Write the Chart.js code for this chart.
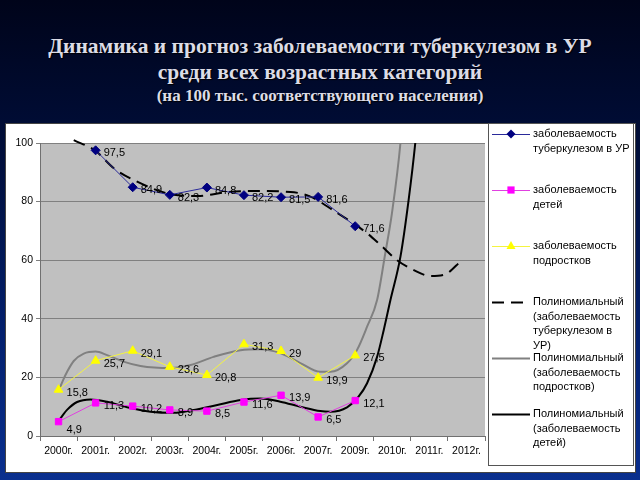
<!DOCTYPE html>
<html><head><meta charset="utf-8">
<script src="https://cdn.jsdelivr.net/npm/chart.js@4/dist/chart.umd.min.js"></script>
<style>
html,body{margin:0;padding:0;width:640px;height:480px;overflow:hidden;}
body{background:linear-gradient(to bottom,#00041a 0%,#000f3e 35%,#03206e 70%,#0a2f8e 100%);position:relative;font-family:"Liberation Serif",serif;}
.t{position:absolute;left:0;width:640px;text-align:center;color:#dcdce6;font-weight:bold;text-shadow:1px 1px 1px #000;white-space:nowrap;}
#t1{top:34px;font-size:21.5px;}
#t2{top:60px;font-size:21.5px;}
#t3{top:86px;font-size:17px;}
#panel{position:absolute;left:5px;top:123px;width:629px;height:348px;background:#fff;border:1px solid #444;}
#c{position:absolute;left:5px;top:123px;}
</style></head>
<body>
<div class="t" id="t1">Динамика и прогноз заболеваемости туберкулезом в УР</div>
<div class="t" id="t2">среди всех возрастных категорий</div>
<div class="t" id="t3">(на 100 тыс. соответствующего населения)</div>
<div id="panel"></div>
<canvas id="c" width="631" height="350"></canvas>
<script>
const categories = ['2000г.','2001г.','2002г.','2003г.','2004г.','2005г.','2006г.','2007г.','2009г.','2010г.','2011г.','2012г.'];
const totalValues = [null,97.5,84.9,82.3,84.8,82.2,81.5,81.6,71.6,null,null,null];
const childValues = [4.9,11.3,10.2,8.9,8.5,11.6,13.9,6.5,12.1,null,null,null];
const teenValues  = [15.8,25.7,29.1,23.6,20.8,31.3,29,19.9,27.5,null,null,null];

// polynomial trend curves (x = category index)
const trendTotalX = [0.41,1.0,1.49,2.12,2.93,3.74,4.55,5.18,6.25,6.79,7.41,8.32,8.68,9.13,9.58,10.03,10.39,10.88];
const trendTotalY = [101,97.3,91.4,86.8,82.8,81.9,83.2,83.6,83.3,81.7,77,69.2,65.2,60,56.6,54.6,55,60];
const trendTeenX = [0,0.12,0.235,0.41,0.68,1.0,1.31,1.75,2.21,3.02,3.56,4.18,4.91,5.44,5.98,6.52,7.06,7.33,7.78,8.05,8.32,8.59,8.81,8.99,9.22,9.4];
const trendTeenY = [15.3,19,22,25.6,28.1,28.8,27.6,25.4,23.9,23.2,24.2,27,29.3,29.6,28.3,24.9,21.9,21.9,24.8,29.4,37.3,46.4,62.3,76,100,130];
const trendChildX = [0,0.12,0.235,0.5,0.86,1.31,1.85,2.48,3.11,3.65,4.28,4.91,5.44,5.98,6.52,7.06,7.33,7.78,8.09,8.32,8.59,8.77,8.95,9.22,9.44,9.62,9.8];
const trendChildY = [5,7.2,9,11.6,12.5,11.7,9.8,8.3,7.9,8.9,10.6,12.3,12.8,11.7,10,8.5,8.3,9.8,13.4,18,27,36.2,46.4,61.2,80.5,100,125];

const yTicks = [0,20,40,60,80,100];

const legendText = [
  ['заболеваемость','туберкулезом в УР'],
  ['заболеваемость','детей'],
  ['заболеваемость','подростков'],
  ['Полиномиальный','(заболеваемость','туберкулезом в','УР)'],
  ['Полиномиальный','(заболеваемость','подростков)'],
  ['Полиномиальный','(заболеваемость','детей)']
];

const pts = (xs, ys) => xs.map((x,i)=>({x:x, y:ys[i]}));

const bgPlugin = {
  id:'bg',
  beforeDraw(chart){
    const a = chart.chartArea, ctx = chart.ctx;
    ctx.save(); ctx.fillStyle = '#c0c0c0';
    ctx.fillRect(a.left, a.top, a.right-a.left, a.bottom-a.top);
    ctx.restore();
  }
};

const valueLabels = {
  id:'valueLabels',
  afterDatasetsDraw(chart){
    const ctx = chart.ctx;
    ctx.save();
    ctx.font = '11px "Liberation Sans", Arial, sans-serif';
    ctx.fillStyle = '#000';
    ctx.textBaseline = 'middle';
    [0,1,2].forEach(di=>{
      const meta = chart.getDatasetMeta(di);
      const data = chart.data.datasets[di].data;
      meta.data.forEach((el,i)=>{
        const v = data[i]; if (v == null) return;
        const low = (di===1 && i===0) ? 8 : 3;
        ctx.fillText(String(v).replace('.',','), el.x+8, el.y+low);
      });
    });
    ctx.restore();
  }
};

function drawMarker(ctx, style, x, y, r, color){
  ctx.fillStyle = color; ctx.strokeStyle = color; ctx.beginPath();
  if (style==='rectRot'){ ctx.moveTo(x,y-r); ctx.lineTo(x+r,y); ctx.lineTo(x,y+r); ctx.lineTo(x-r,y); }
  else if (style==='rect'){ ctx.rect(x-r*0.8,y-r*0.8,r*1.6,r*1.6); }
  else if (style==='triangle'){ ctx.moveTo(x,y-r); ctx.lineTo(x+r*0.9,y+r*0.6); ctx.lineTo(x-r*0.9,y+r*0.6); }
  ctx.closePath(); ctx.fill();
}

const customLegend = {
  id:'customLegend',
  afterDraw(chart){
    const ctx = chart.ctx;
    ctx.save();
    ctx.strokeStyle = '#555'; ctx.lineWidth = 1;
    ctx.strokeRect(483.5, 0.5, 145, 342);
    ctx.font = '11px "Liberation Sans", Arial, sans-serif';
    ctx.textBaseline = 'middle';
    chart.data.datasets.forEach((ds,i)=>{
      const y = 11 + i*56;
      ctx.save();
      ctx.strokeStyle = ds.borderColor; ctx.lineWidth = ds.borderWidth;
      ctx.setLineDash(ds.borderDash || []);
      ctx.beginPath(); ctx.moveTo(487, y+0.5); ctx.lineTo(525, y+0.5); ctx.stroke();
      ctx.restore();
      if (ds.pointRadius) drawMarker(ctx, ds.pointStyle, 506, y, ds.pointRadius, ds.pointBackgroundColor);
      ctx.fillStyle = '#000';
      legendText[i].forEach((line,j)=> ctx.fillText(line, 528, y + j*14.5));
    });
    ctx.restore();
  }
};

new Chart(document.getElementById('c'), {
  type:'line',
  data:{
    labels: categories,
    datasets:[
      {label:'t', data: totalValues, borderColor:'#2a2a9a', borderWidth:1, pointStyle:'rectRot', pointRadius:4.5, pointBackgroundColor:'#000080', pointBorderColor:'#000080', pointBorderWidth:1, xAxisID:'x'},
      {label:'c', data: childValues, borderColor:'#e040e0', borderWidth:1, pointStyle:'rect', pointRadius:4.5, pointBackgroundColor:'#ff00ff', pointBorderColor:'#ff00ff', pointBorderWidth:1, xAxisID:'x'},
      {label:'p', data: teenValues, borderColor:'#f4f440', borderWidth:1, pointStyle:'triangle', pointRadius:5, pointBackgroundColor:'#ffff00', pointBorderColor:'#ffff00', pointBorderWidth:1, xAxisID:'x'},
      {label:'pt', data: pts(trendTotalX, trendTotalY), borderColor:'#000', borderWidth:2, borderDash:[12,7], pointRadius:0, cubicInterpolationMode:'monotone', xAxisID:'xt', clip:{left:0,right:0,top:4,bottom:0}},
      {label:'pp', data: pts(trendTeenX, trendTeenY), borderColor:'#808080', borderWidth:2, pointRadius:0, cubicInterpolationMode:'monotone', xAxisID:'xt', clip:0},
      {label:'pc', data: pts(trendChildX, trendChildY), borderColor:'#000', borderWidth:2, pointRadius:0, cubicInterpolationMode:'monotone', xAxisID:'xt', clip:0}
    ]
  },
  options:{
    responsive:false, animation:false, devicePixelRatio:1,
    layout:{padding:{left:0,right:151,top:20,bottom:0}},
    plugins:{legend:{display:false}, tooltip:{enabled:false}},
    scales:{
      x:{type:'category', offset:true,
        grid:{offset:true, drawOnChartArea:false, drawTicks:true, tickLength:5, color:'#707070'},
        border:{display:true, color:'#707070'},
        ticks:{autoSkip:false, maxRotation:0, padding:4, color:'#000', font:{family:'"Liberation Sans", Arial, sans-serif', size:10.5}},
        afterFit(s){ s.height = 37; }
      },
      xt:{type:'linear', min:-0.5, max:11.5, display:false},
      y:{min:0, max:100,
        afterBuildTicks(s){ s.ticks = yTicks.map(v=>({value:v})); },
        grid:{color:'#808080', tickLength:4, drawTicks:true},
        border:{display:true, color:'#707070'},
        ticks:{padding:3, color:'#000', font:{family:'"Liberation Sans", Arial, sans-serif', size:10.5}},
        afterFit(s){ s.width = 35; }
      }
    }
  },
  plugins:[bgPlugin, valueLabels, customLegend]
});
</script>
</body></html>
